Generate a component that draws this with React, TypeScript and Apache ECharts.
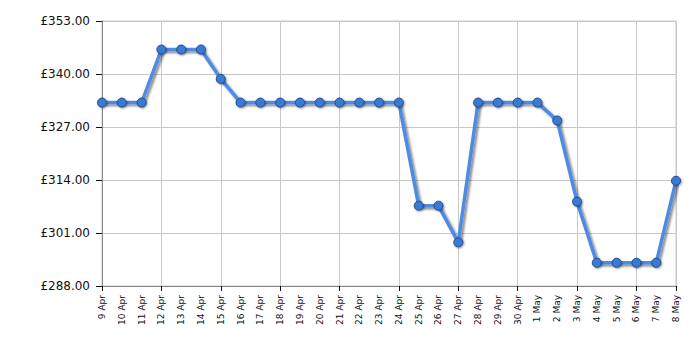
import React, { useEffect, useRef } from "react";
import * as echarts from "echarts";

const categories = [
  "9 Apr", "10 Apr", "11 Apr", "12 Apr", "13 Apr", "14 Apr", "15 Apr", "16 Apr", "17 Apr", "18 Apr",
  "19 Apr", "20 Apr", "21 Apr", "22 Apr", "23 Apr", "24 Apr", "25 Apr", "26 Apr", "27 Apr", "28 Apr",
  "29 Apr", "30 Apr", "1 May", "2 May", "3 May", "4 May", "5 May", "6 May", "7 May", "8 May",
];

const prices = [
  332.99, 332.99, 332.99, 346.0, 346.0, 346.0, 338.8, 332.99, 332.99, 332.99,
  332.99, 332.99, 332.99, 332.99, 332.99, 332.99, 307.7, 307.7, 298.7, 332.99,
  332.99, 332.99, 332.99, 328.6, 308.7, 293.7, 293.7, 293.7, 293.7, 313.8,
];

const yMin = 288;
const yMax = 353;
const yStep = 13;

export default function App() {
  const ref = useRef<HTMLDivElement>(null);
  useEffect(() => {
    if (!ref.current) return;
    const chart = echarts.init(ref.current, null, { renderer: "svg" });
    chart.setOption({
      animation: false,
      backgroundColor: "#ffffff",
      grid: {
        left: 102,
        right: 24,
        top: 21,
        bottom: 64,
        show: true,
        borderColor: "#c8c8c8",
        borderWidth: 1,
      },
      xAxis: {
        type: "category",
        data: categories,
        boundaryGap: false,
        axisLine: { lineStyle: { color: "#888888", width: 1 } },
        axisTick: { show: true, interval: 2, length: 5, lineStyle: { color: "#111" } },
        axisLabel: {
          interval: 0,
          rotate: 90,
          fontFamily: "DejaVu Sans",
          fontSize: 9,
          color: "#111",
          margin: 9,
        },
        splitLine: { show: true, interval: 2, lineStyle: { color: "#c8c8c8", width: 1 } },
      },
      yAxis: {
        type: "value",
        min: yMin,
        max: yMax,
        interval: yStep,
        axisLine: { show: true, lineStyle: { color: "#888888", width: 1 } },
        axisTick: { show: true, length: 6, lineStyle: { color: "#111" } },
        axisLabel: {
          formatter: (v: number) => "£" + v.toFixed(2),
          fontFamily: "DejaVu Sans",
          fontSize: 12,
          color: "#111",
          margin: 12,
        },
        splitLine: { show: true, lineStyle: { color: "#c8c8c8", width: 1 } },
      },
      series: [
        {
          type: "line",
          data: prices,
          symbol: "circle",
          symbolSize: 9,
          lineStyle: {
            color: "#4d8ce2",
            width: 3.5,
            shadowColor: "rgba(0,0,0,0.45)",
            shadowOffsetX: 2,
            shadowOffsetY: 2,
            shadowBlur: 2,
          },
          itemStyle: {
            color: "#3b7ad4",
            borderColor: "#1f4a8a",
            borderWidth: 1,
            shadowColor: "rgba(0,0,0,0.4)",
            shadowOffsetX: 1,
            shadowOffsetY: 1,
            shadowBlur: 2,
          },
        },
      ],
    });
    return () => chart.dispose();
  }, []);
  return <div ref={ref} style={{ width: 700, height: 350, margin: -8 }} />;
}
